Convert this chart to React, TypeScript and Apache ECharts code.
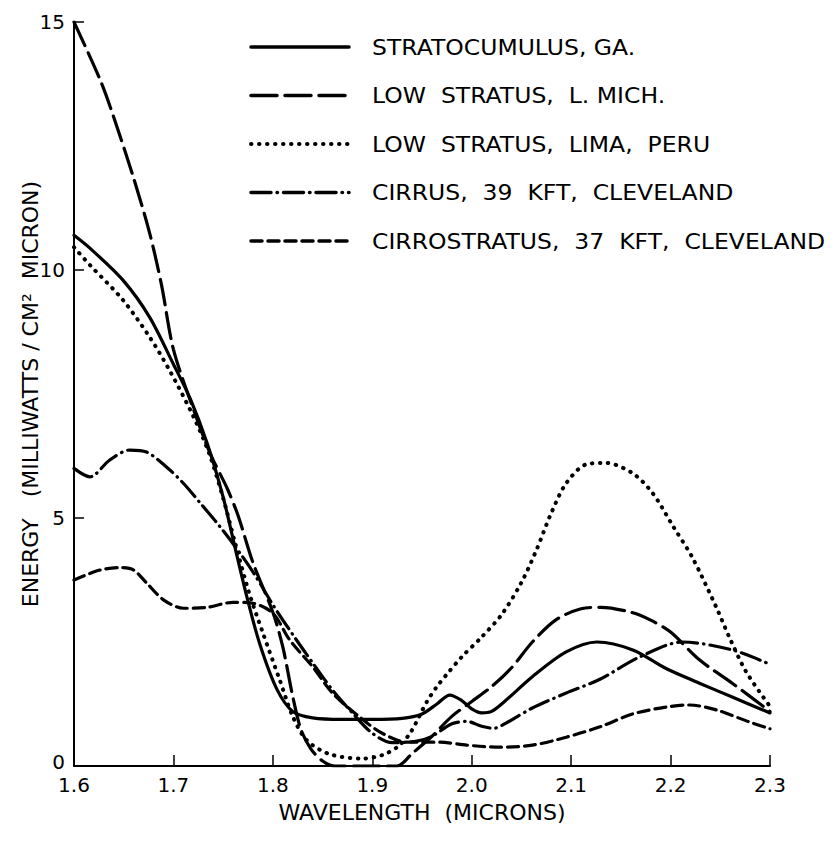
import React, { useEffect, useRef } from "react";
import * as echarts from "echarts";

// ---------- data (wavelength in microns, energy in mW / cm² micron) ----------
const xTicks = [1.6, 1.7, 1.8, 1.9, 2.0, 2.1, 2.2, 2.3];
const yTicks = [0, 5, 10, 15];

const seriesNames = [
  "STRATOCUMULUS, GA.",
  "LOW  STRATUS,  L. MICH.",
  "LOW  STRATUS,  LIMA,  PERU",
  "CIRRUS,  39  KFT,  CLEVELAND",
  "CIRROSTRATUS,  37  KFT,  CLEVELAND",
];

const stratocumulusGA: [number, number][] = [
  [1.6, 10.7], [1.616, 10.44], [1.649, 9.8], [1.676, 9.05], [1.7, 8.1],
  [1.717, 7.4], [1.734, 6.5], [1.75, 5.42], [1.762, 4.4], [1.774, 3.4],
  [1.787, 2.45], [1.804, 1.55], [1.82, 1.1], [1.84, 0.97], [1.87, 0.94],
  [1.9, 0.94], [1.93, 0.96], [1.95, 1.05], [1.965, 1.25], [1.978, 1.43],
  [1.99, 1.32], [2.0, 1.15], [2.01, 1.07], [2.02, 1.1], [2.033, 1.3],
  [2.061, 1.8], [2.095, 2.3], [2.126, 2.5], [2.162, 2.34], [2.196, 1.96],
  [2.229, 1.67], [2.262, 1.39], [2.3, 1.07],
];

const lowStratusMich: [number, number][] = [
  [1.6, 15.0], [1.627, 13.8], [1.643, 12.9], [1.66, 11.85], [1.676, 10.75],
  [1.688, 9.7], [1.7, 8.4], [1.72, 7.2], [1.737, 6.3], [1.754, 5.6],
  [1.765, 5.05], [1.78, 4.1], [1.8, 3.1], [1.81, 2.4], [1.82, 1.4],
  [1.828, 0.75], [1.838, 0.35], [1.85, 0.1], [1.862, 0], [1.9, 0],
  [1.925, 0], [1.94, 0.25], [1.96, 0.6], [1.98, 1.0], [2.0, 1.3],
  [2.02, 1.6], [2.04, 1.98], [2.061, 2.5], [2.085, 2.95], [2.11, 3.17],
  [2.13, 3.2], [2.16, 3.1], [2.18, 2.94], [2.2, 2.7], [2.229, 2.14],
  [2.262, 1.67], [2.3, 1.1],
];

const lowStratusLima: [number, number][] = [
  [1.6, 10.46], [1.616, 10.1], [1.649, 9.4], [1.676, 8.65], [1.696, 7.98],
  [1.72, 7.05], [1.736, 6.3], [1.75, 5.4], [1.762, 4.5], [1.776, 3.5],
  [1.79, 2.68], [1.807, 1.73], [1.82, 1.0], [1.834, 0.52], [1.857, 0.24],
  [1.89, 0.15], [1.91, 0.22], [1.925, 0.38], [1.938, 0.66], [1.955, 1.3],
  [1.965, 1.6], [1.975, 1.85], [1.99, 2.2], [2.01, 2.6], [2.03, 3.05],
  [2.05, 3.7], [2.065, 4.35], [2.08, 5.1], [2.095, 5.7], [2.115, 6.08],
  [2.135, 6.11], [2.162, 5.9], [2.182, 5.5], [2.202, 4.85], [2.222, 4.2],
  [2.246, 3.2], [2.259, 2.6], [2.276, 1.9], [2.3, 1.2],
];

const cirrus39: [number, number][] = [
  [1.6, 6.0], [1.616, 5.83], [1.636, 6.17], [1.656, 6.37], [1.673, 6.33],
  [1.693, 6.03], [1.71, 5.7], [1.727, 5.3], [1.747, 4.82], [1.767, 4.29],
  [1.782, 3.85], [1.8, 3.25], [1.82, 2.65], [1.84, 2.08], [1.86, 1.53],
  [1.88, 1.07], [1.9, 0.66], [1.92, 0.47], [1.945, 0.5], [1.96, 0.6],
  [1.98, 0.85], [1.995, 0.9], [2.01, 0.8], [2.022, 0.76], [2.035, 0.87],
  [2.061, 1.17], [2.095, 1.47], [2.129, 1.75], [2.169, 2.2], [2.212, 2.5],
  [2.262, 2.34], [2.3, 2.05],
];

const cirrostratus37: [number, number][] = [
  [1.6, 3.75], [1.626, 3.95], [1.646, 4.0], [1.66, 3.95], [1.673, 3.69],
  [1.69, 3.35], [1.71, 3.18], [1.734, 3.2], [1.76, 3.3], [1.78, 3.28],
  [1.8, 3.08], [1.817, 2.54], [1.84, 2.0], [1.86, 1.47], [1.887, 0.99],
  [1.91, 0.66], [1.935, 0.48], [1.968, 0.48], [1.995, 0.42], [2.028, 0.38],
  [2.061, 0.42], [2.095, 0.58], [2.129, 0.79], [2.162, 1.05], [2.196, 1.19],
  [2.219, 1.23], [2.246, 1.13], [2.279, 0.89], [2.3, 0.75],
];

const allSeries = [stratocumulusGA, lowStratusMich, lowStratusLima, cirrus39, cirrostratus37];
const dashes: (number[] | null)[] = [null, [26, 8], [0.5, 7.5], [20, 6, 0.5, 6], [11, 6]];

const FONT = "'DejaVu Sans', 'Liberation Sans', sans-serif";

export default function App() {
  const ref = useRef<HTMLDivElement>(null);

  useEffect(() => {
    document.body.style.margin = "0";
    if (!ref.current) return;
    const chart = echarts.init(ref.current, undefined, { renderer: "svg" });

    const legendGraphics: any[] = [];
    seriesNames.forEach((name, i) => {
      const y = 47 + i * 48.5;
      const d = dashes[i];
      legendGraphics.push({
        type: "line",
        shape: { x1: 251, y1: y, x2: 349, y2: y },
        style: {
          stroke: "#000",
          lineWidth: i === 2 ? 4 : 3.5,
          lineDash: d ? d : undefined,
          lineCap: "round",
        },
      });
      legendGraphics.push({
        type: "text",
        x: 372,
        y: y,
        scaleX: 1.12,
        style: {
          text: name,
          fill: "#000",
          font: `21px ${FONT}`,
          verticalAlign: "middle",
          align: "left",
        },
      });
    });

    chart.setOption({
      animation: false,
      backgroundColor: "#fff",
      grid: { left: 74, right: 65, top: 22, bottom: 81, containLabel: false },
      xAxis: {
        type: "value",
        min: 1.6,
        max: 2.3,
        interval: 0.1,
        name: "WAVELENGTH  (MICRONS)",
        nameLocation: "middle",
        nameGap: 35,
        nameMoveOverlap: false,
        nameTextStyle: { color: "#000", fontSize: 22, fontFamily: FONT },
        axisLine: { show: true, lineStyle: { color: "#000", width: 2 } },
        axisTick: { show: true, inside: true, length: 11, lineStyle: { color: "#000", width: 1.5 } },
        axisLabel: {
          color: "#000",
          fontSize: 20,
          fontFamily: FONT,
          margin: 10,
          lineHeight: 18,
          formatter: (v: number) => v.toFixed(1),
        },
        splitLine: { show: false },
      },
      yAxis: {
        type: "value",
        min: 0,
        max: 15,
        interval: 5,
        name: "ENERGY   (MILLIWATTS / CM²  MICRON)",
        nameLocation: "middle",
        nameRotate: 90,
        nameGap: 33,
        nameMoveOverlap: false,
        nameTextStyle: { color: "#000", fontSize: 22, fontFamily: FONT },
        axisLine: { show: true, lineStyle: { color: "#000", width: 2 } },
        axisTick: { show: true, inside: true, length: 10, lineStyle: { color: "#000", width: 1.5 } },
        axisLabel: {
          color: "#000",
          fontSize: 20,
          fontFamily: FONT,
          margin: 9,
          lineHeight: 18,
          formatter: (v: number) => (v === 0 ? "{z|0}" : String(v)),
          rich: {
            z: { fontSize: 20, fontFamily: FONT, color: "#000", lineHeight: 16, padding: [0, 0, 8, 0] },
          },
        },
        splitLine: { show: false },
      },
      series: allSeries.map((data, i) => ({
        name: seriesNames[i],
        type: "line",
        data,
        smooth: 0.3,
        symbol: "none",
        clip: true,
        lineStyle: {
          color: "#000",
          width: i === 2 ? 4 : 3.2,
          type: dashes[i] ? dashes[i] : "solid",
          cap: "round",
        },
      })),
      graphic: legendGraphics,
    });

    return () => chart.dispose();
  }, []);

  return <div ref={ref} style={{ width: 835, height: 847, background: "#fff" }} />;
}
